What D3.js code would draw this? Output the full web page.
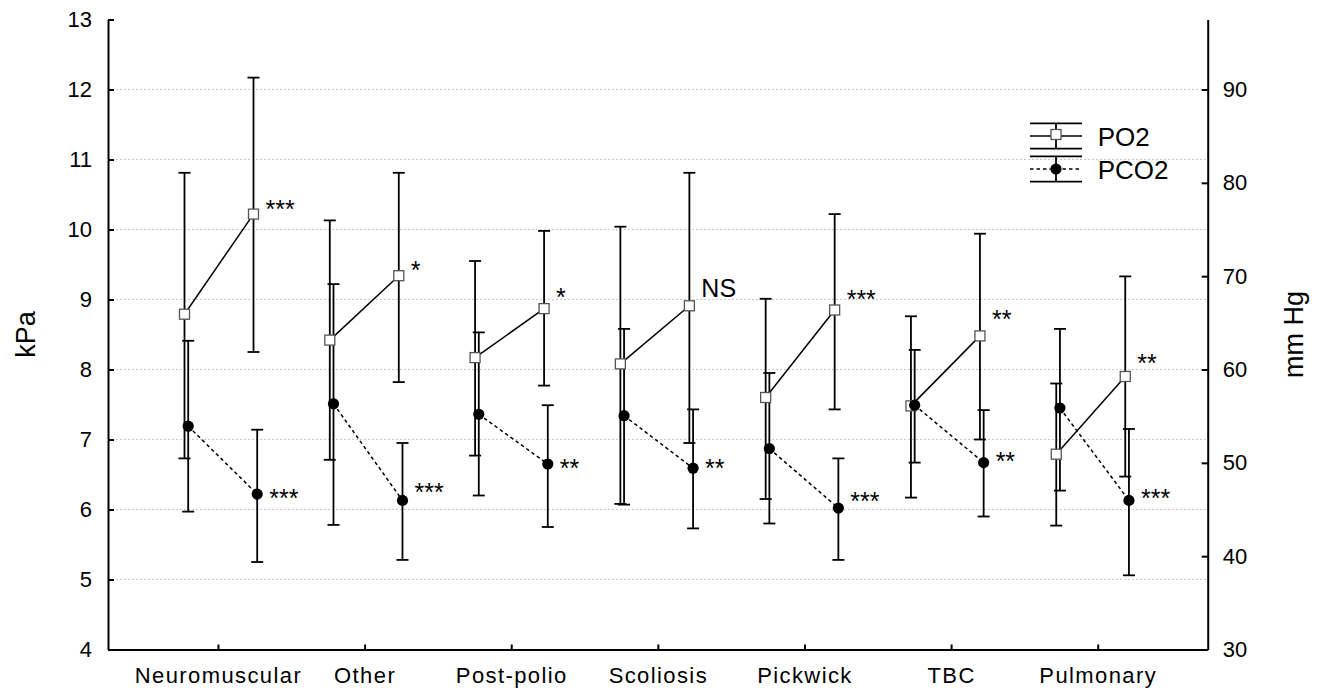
<!DOCTYPE html>
<html>
<head>
<meta charset="utf-8">
<script src="https://d3js.org/d3.v7.min.js"></script>
<style>
  body { margin: 0; background: #fff; }
  svg { display: block; font-family: "Liberation Sans", Arial, sans-serif; }
</style>
</head>
<body>
<div id="chart"></div>
<script>
// Données (kPa)
const categories = ["Neuromuscular", "Other", "Post-polio", "Scoliosis", "Pickwick", "TBC", "Pulmonary"];

const po2Pre = [8.79, 8.42, 8.17, 8.08, 7.60, 7.48, 6.79];
const po2PreLo = [6.73, 6.71, 6.77, 6.08, 6.15, 6.17, 5.77];
const po2PreHi = [10.81, 10.13, 9.55, 10.04, 9.01, 8.76, 7.80];
const po2Post = [10.22, 9.34, 8.87, 8.91, 8.85, 8.48, 7.90];
const po2PostLo = [8.25, 7.82, 7.77, 6.95, 7.43, 7.00, 6.47];
const po2PostHi = [12.17, 10.81, 9.98, 10.81, 10.22, 9.94, 9.33];

const pco2Pre = [7.19, 7.51, 7.36, 7.34, 6.87, 7.49, 7.45];
const pco2PreLo = [5.97, 5.78, 6.20, 6.07, 5.80, 6.67, 6.27];
const pco2PreHi = [8.41, 9.22, 8.53, 8.58, 7.95, 8.28, 8.58];
const pco2Post = [6.22, 6.13, 6.65, 6.59, 6.02, 6.67, 6.13];
const pco2PostLo = [5.25, 5.28, 5.75, 5.73, 5.28, 5.90, 5.06];
const pco2PostHi = [7.14, 6.95, 7.49, 7.43, 6.73, 7.42, 7.15];

// Significativité (texte + niveau de la ligne de base en kPa)
const po2Sig = ["***", "*", "*", "NS", "***", "**", "**"];
const po2SigLevel = [10.17, 9.30, 8.91, 9.04, 8.88, 8.60, 7.97];
const pco2Sig = ["***", "***", "**", "**", "***", "**", "***"];
const pco2SigLevel = [6.04, 6.12, 6.46, 6.47, 6.00, 6.57, 6.04];

const kpaTicks = [4, 5, 6, 7, 8, 9, 10, 11, 12, 13];
const gridTicks = [5, 6, 7, 8, 9, 10, 11, 12];
const mmhgTicks = [30, 40, 50, 60, 70, 80, 90];
const legendLabels = ["PO2", "PCO2"];

// Configuration
const width = 1323;
const height = 694;
const plotLeft = 108, plotRight = 1207.7, plotTop = 19.5, plotBottom = 649.5;
const halfGap = 34.5;     // écart avant/après
const seriesShift = 3.7;  // décalage PCO2
const capW = 6;

const svg = d3.select("#chart").append("svg")
  .attr("width", width)
  .attr("height", height);

const y = d3.scaleLinear().domain([4, 13]).range([plotBottom, plotTop]);
const yR = d3.scaleLinear().domain([30, 97.5]).range([plotBottom, plotTop]);
const xTick = d3.scalePoint().domain(categories).range([plotLeft, plotRight]).padding(0.75);
const xData = d3.scaleLinear().domain([-0.764, 6.805]).range([plotLeft, plotRight]);

// Grille
svg.append("g")
  .selectAll("line")
  .data(gridTicks)
  .join("line")
  .attr("x1", plotLeft)
  .attr("x2", plotRight)
  .attr("y1", d => y(d))
  .attr("y2", d => y(d))
  .attr("stroke", "#c8c8c8")
  .attr("stroke-width", 1)
  .attr("stroke-dasharray", "2,2");

// Axes
function styleAxis(g) {
  g.select(".domain").attr("stroke", "#000").attr("stroke-width", 2);
  g.selectAll(".tick line").attr("stroke", "#000").attr("stroke-width", 2);
  g.selectAll(".tick text").attr("fill", "#000").attr("font-size", 22)
    .attr("font-family", "Liberation Sans, Arial, sans-serif");
}

svg.append("g")
  .attr("transform", `translate(${plotLeft},0)`)
  .call(d3.axisLeft(y).tickValues(kpaTicks).tickSizeInner(-6).tickSizeOuter(0).tickPadding(16))
  .call(styleAxis);

svg.append("g")
  .attr("transform", `translate(${plotRight},0)`)
  .call(d3.axisRight(yR).tickValues(mmhgTicks).tickSizeInner(-6).tickSizeOuter(0).tickPadding(15))
  .call(styleAxis);

const xAxis = svg.append("g")
  .attr("transform", `translate(0,${plotBottom})`)
  .call(d3.axisBottom(xTick).tickSizeInner(-5).tickSizeOuter(0).tickPadding(17.5))
  .call(styleAxis);
xAxis.selectAll(".tick text").attr("letter-spacing", "1.4px");

// Titres des axes
svg.append("text")
  .attr("transform", `translate(35,${(plotTop + plotBottom) / 2}) rotate(-90)`)
  .attr("text-anchor", "middle")
  .attr("font-size", 27)
  .text("kPa");

svg.append("text")
  .attr("transform", `translate(1303,${(plotTop + plotBottom) / 2}) rotate(-90)`)
  .attr("text-anchor", "middle")
  .attr("font-size", 27)
  .text("mm Hg");

// Construction des séries
const series = [
  { name: "PO2", shift: 0, pre: po2Pre, preLo: po2PreLo, preHi: po2PreHi,
    post: po2Post, postLo: po2PostLo, postHi: po2PostHi, sig: po2Sig, sigLevel: po2SigLevel,
    dash: null, square: true },
  { name: "PCO2", shift: seriesShift, pre: pco2Pre, preLo: pco2PreLo, preHi: pco2PreHi,
    post: pco2Post, postLo: pco2PostLo, postHi: pco2PostHi, sig: pco2Sig, sigLevel: pco2SigLevel,
    dash: "3.5,3", square: false }
];

const bars = svg.append("g").attr("stroke", "#000").attr("stroke-width", 1.8);
const links = svg.append("g").attr("stroke", "#000").attr("stroke-width", 1.5);
const marks = svg.append("g");
const notes = svg.append("g").attr("font-size", 25);

series.forEach(s => {
  const pts = [];
  categories.forEach((c, i) => {
    pts.push({ x: xData(i) - halfGap + s.shift, v: s.pre[i], lo: s.preLo[i], hi: s.preHi[i] });
    pts.push({ x: xData(i) + halfGap + s.shift, v: s.post[i], lo: s.postLo[i], hi: s.postHi[i] });
  });

  // Barres d'erreur
  pts.forEach(p => {
    bars.append("line").attr("x1", p.x).attr("x2", p.x).attr("y1", y(p.hi)).attr("y2", y(p.lo));
    bars.append("line").attr("x1", p.x - capW).attr("x2", p.x + capW).attr("y1", y(p.hi)).attr("y2", y(p.hi));
    bars.append("line").attr("x1", p.x - capW).attr("x2", p.x + capW).attr("y1", y(p.lo)).attr("y2", y(p.lo));
  });

  // Lignes avant -> après
  categories.forEach((c, i) => {
    links.append("line")
      .attr("x1", pts[2 * i].x).attr("y1", y(pts[2 * i].v))
      .attr("x2", pts[2 * i + 1].x).attr("y2", y(pts[2 * i + 1].v))
      .attr("stroke-dasharray", s.dash);
  });

  s.pts = pts;

  // Annotations
  categories.forEach((c, i) => {
    notes.append("text")
      .attr("x", xData(i) + halfGap + s.shift + 12)
      .attr("y", y(s.sigLevel[i]))
      .text(s.sig[i]);
  });
});

// Marqueurs par-dessus
series.forEach(s => {
  s.pts.forEach(p => {
    if (s.square) {
      marks.append("rect")
        .attr("x", p.x - 5).attr("y", y(p.v) - 5)
        .attr("width", 10).attr("height", 10)
        .attr("fill", "#fff").attr("stroke", "#555").attr("stroke-width", 1.3);
    } else {
      marks.append("circle")
        .attr("cx", p.x).attr("cy", y(p.v)).attr("r", 5.6)
        .attr("fill", "#000");
    }
  });
});

// Légende
const legend = svg.append("g").attr("transform", "translate(1030,136)");
legendLabels.forEach((label, i) => {
  const g = legend.append("g").attr("transform", `translate(0,${i * 33})`);
  g.append("line").attr("x1", 0).attr("x2", 52).attr("y1", -12.7).attr("y2", -12.7)
    .attr("stroke", "#000").attr("stroke-width", 1.8);
  g.append("line").attr("x1", 0).attr("x2", 52).attr("y1", 12.7).attr("y2", 12.7)
    .attr("stroke", "#000").attr("stroke-width", 1.8);
  g.append("line").attr("x1", 26).attr("x2", 26).attr("y1", -12.7).attr("y2", 12.7)
    .attr("stroke", "#000").attr("stroke-width", 1.8);
  g.append("line").attr("x1", 0).attr("x2", 52).attr("y1", 0).attr("y2", 0)
    .attr("stroke", "#000").attr("stroke-width", 1.5)
    .attr("stroke-dasharray", i === 0 ? null : "3.5,3");
  if (i === 0) {
    g.append("rect").attr("x", 21).attr("y", -6.5).attr("width", 10).attr("height", 10)
      .attr("fill", "#fff").attr("stroke", "#555").attr("stroke-width", 1.3);
  } else {
    g.append("circle").attr("cx", 26).attr("cy", 0).attr("r", 5.6).attr("fill", "#000");
  }
  g.append("text").attr("x", 67.7).attr("y", 10).attr("font-size", 26).text(label);
});
</script>
</body>
</html>
